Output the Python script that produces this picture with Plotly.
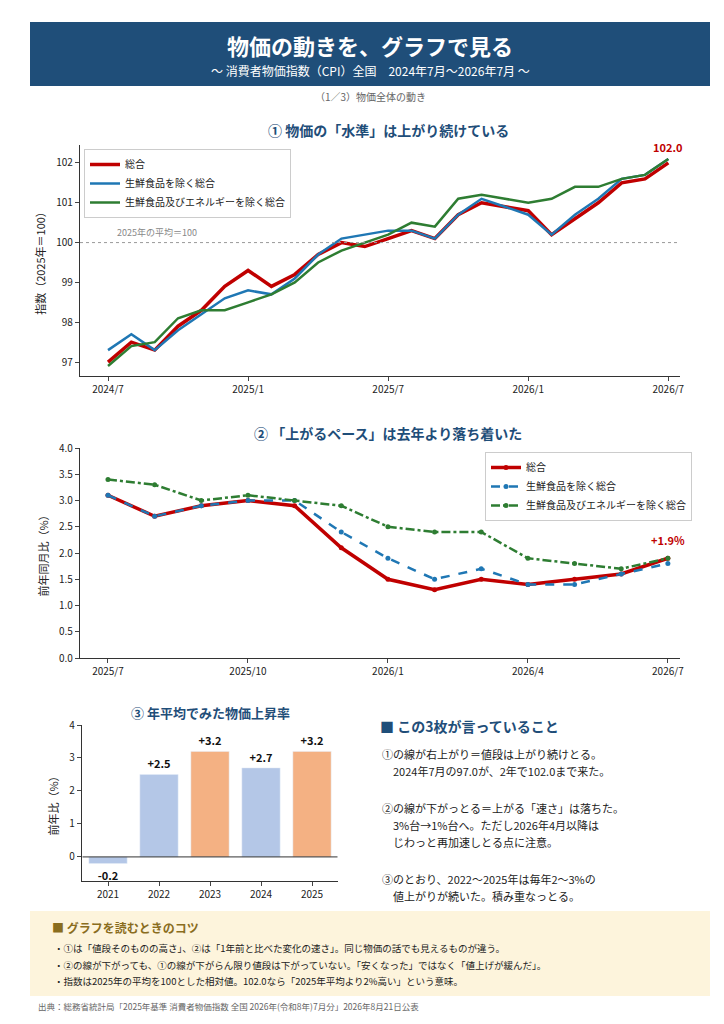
import plotly.graph_objects as go

W, H = 724, 1024
FONT = "Noto Sans CJK JP"
NAVY = "#1f4e79"
RED = "#c00000"
BLUE = "#1f77b4"
GREEN = "#2e7d32"

# ① index level, 2024/7 .. 2026/7
level_labels = ["2024/7", "2025/1", "2025/7", "2026/1", "2026/7"]
level_total = [97.0, 97.5, 97.3, 97.9, 98.3, 98.9, 99.3, 98.9, 99.2, 99.7, 100.0, 99.9, 100.1,
               100.3, 100.1, 100.7, 101.0, 100.9, 100.8, 100.2, 100.6, 101.0, 101.5, 101.6, 102.0]
level_core = [97.3, 97.7, 97.3, 97.8, 98.2, 98.6, 98.8, 98.7, 99.1, 99.7, 100.1, 100.2, 100.3,
              100.3, 100.1, 100.7, 101.1, 100.9, 100.7, 100.2, 100.7, 101.1, 101.6, 101.7, 102.1]
level_corecore = [96.9, 97.4, 97.5, 98.1, 98.3, 98.3, 98.5, 98.7, 99.0, 99.5, 99.8, 100.0, 100.2,
                  100.5, 100.4, 101.1, 101.2, 101.1, 101.0, 101.1, 101.4, 101.4, 101.6, 101.7, 102.1]

# ② year-on-year %, 2025/7 .. 2026/7
yoy_labels = ["2025/7", "2025/10", "2026/1", "2026/4", "2026/7"]
yoy_total = [3.1, 2.7, 2.9, 3.0, 2.9, 2.1, 1.5, 1.3, 1.5, 1.4, 1.5, 1.6, 1.9]
yoy_core = [3.1, 2.7, 2.9, 3.0, 3.0, 2.4, 1.9, 1.5, 1.7, 1.4, 1.4, 1.6, 1.8]
yoy_corecore = [3.4, 3.3, 3.0, 3.1, 3.0, 2.9, 2.5, 2.4, 2.4, 1.9, 1.8, 1.7, 1.9]

# ③ annual averages
years = ["2021", "2022", "2023", "2024", "2025"]
annual = [-0.2, 2.5, 3.2, 2.7, 3.2]
bar_colors = ["#b4c7e7", "#b4c7e7", "#f4b183", "#b4c7e7", "#f4b183"]

names = ["総合", "生鮮食品を除く総合", "生鮮食品及びエネルギーを除く総合"]


def px_x(x):
    return x / W


def px_y(y):
    return 1 - y / H


def note(x, y, text, size, color="#222", xanchor="center"):
    fig.add_annotation(xref="paper", yref="paper", x=px_x(x), y=px_y(y), text=text, showarrow=False,
                       xanchor=xanchor, yanchor="middle", font=dict(size=size, color=color))


fig = go.Figure()

# chart 1
xs1 = list(range(len(level_total)))
for vals, name, col, w in [(level_total, names[0], RED, 3.5), (level_core, names[1], BLUE, 2.5),
                           (level_corecore, names[2], GREEN, 2.5)]:
    fig.add_trace(go.Scatter(x=xs1, y=vals, name=name, mode="lines", line=dict(color=col, width=w),
                             xaxis="x", yaxis="y", legend="legend"))

# chart 2
xs2 = list(range(len(yoy_total)))
for vals, name, col, w, dash in [(yoy_total, names[0], RED, 3.5, "solid"), (yoy_core, names[1], BLUE, 2.5, "dash"),
                                 (yoy_corecore, names[2], GREEN, 2.5, "dashdot")]:
    fig.add_trace(go.Scatter(x=xs2, y=vals, name=name, mode="lines+markers",
                             line=dict(color=col, width=w, dash=dash), marker=dict(size=5, color=col),
                             xaxis="x2", yaxis="y2", legend="legend2"))

# chart 3
fig.add_trace(go.Bar(x=years, y=annual, marker_color=bar_colors, width=0.75,
                     text=[f"<b>{v:+.1f}</b>" for v in annual], textposition="outside",
                     textfont=dict(size=11, color="#111", family=FONT),
                     cliponaxis=False, showlegend=False, xaxis="x3", yaxis="y3"))

ax = dict(showline=True, linecolor="#333", linewidth=1.2, ticks="outside", ticklen=4, automargin=False,
          tickfont=dict(size=10, color="#222"), showgrid=False, zeroline=False)

fig.update_layout(
    width=W, height=H, margin=dict(l=0, r=0, t=0, b=0, pad=0),
    paper_bgcolor="white", plot_bgcolor="white",
    font=dict(family=FONT, color="#222"),
    xaxis=dict(ax, domain=[px_x(72), px_x(672)], range=[-1.2, 24.5], anchor="y",
               tickvals=[0, 6, 12, 18, 24], ticktext=level_labels),
    yaxis=dict(ax, domain=[px_y(368), px_y(137)], range=[96.65, 102.45], anchor="x",
               tickvals=[97, 98, 99, 100, 101, 102],
               title=dict(text="指数（2025年＝100）", font=dict(size=11), standoff=8)),
    xaxis2=dict(ax, domain=[px_x(72), px_x(672)], range=[-0.6, 12.26], anchor="y2",
                tickvals=[0, 3, 6, 9, 12], ticktext=yoy_labels),
    yaxis2=dict(ax, domain=[px_y(650), px_y(440)], range=[0, 4], anchor="x2", dtick=0.5,
                tickformat=".1f", title=dict(text="前年同月比（%）", font=dict(size=11), standoff=8)),
    xaxis3=dict(ax, domain=[px_x(74), px_x(330)], anchor="y3"),
    yaxis3=dict(ax, domain=[px_y(873), px_y(717)], range=[-0.73, 4], anchor="x3", dtick=1,
                title=dict(text="前年比（%）", font=dict(size=11), standoff=8)),
    legend=dict(x=px_x(76), y=px_y(141), xanchor="left", yanchor="top", bgcolor="white",
                bordercolor="#ccc", borderwidth=1, font=dict(size=10), tracegroupgap=0),
    legend2=dict(x=px_x(684), y=px_y(444), xanchor="right", yanchor="top", bgcolor="white",
                 bordercolor="#ccc", borderwidth=1, font=dict(size=10), tracegroupgap=0),
    bargap=0.2,
)

# horizontal references
fig.add_shape(type="line", xref="x", yref="y", x0=-1.2, x1=24.5, y0=100, y1=100,
              line=dict(color="#999", width=1, dash="dot"))
fig.add_shape(type="line", xref="x3", yref="y3", x0=-0.5, x1=4.5, y0=0, y1=0,
              line=dict(color="#333", width=1))
fig.add_annotation(xref="x", yref="y", x=0.3, y=100.05, text="2025年の平均＝100", showarrow=False,
                   xanchor="left", yanchor="bottom", font=dict(size=9, color="#888"))
fig.add_annotation(xref="x", yref="y", x=24, y=level_total[-1], text="<b>102.0</b>", showarrow=False,
                   yshift=16, font=dict(size=11, color=RED))
fig.add_annotation(xref="x2", yref="y2", x=12, y=yoy_total[-1], text="<b>+1.9%</b>", showarrow=False,
                   yshift=18, font=dict(size=11, color=RED))

# header banner
fig.add_shape(type="rect", xref="paper", yref="paper", x0=px_x(22), x1=px_x(702), y0=px_y(78), y1=px_y(14),
              fillcolor=NAVY, line=dict(width=0), layer="below")
note(362, 37, "<b>物価の動きを、グラフで見る</b>", 22, "white")
note(362, 62, "〜 消費者物価指数（CPI）全国　2024年7月〜2026年7月 〜", 12, "white")
note(362, 88, "（1／3）物価全体の動き", 10, "#666")

# chart titles
note(380, 122, "<b>① 物価の「水準」は上がり続けている</b>", 14, NAVY)
note(380, 425, "<b>② 「上がるペース」は去年より落ち着いた</b>", 14, NAVY)
note(202, 704, "<b>③ 年平均でみた物価上昇率</b>", 13, NAVY)

# right text
note(370, 718, "<b>■ この3枚が言っていること</b>", 14, NAVY, "left")
right_lines = [(746, "①の線が右上がり＝値段は上がり続けとる。"), (763, "　2024年7月の97.0が、2年で102.0まで来た。"),
               (800, "②の線が下がっとる＝上がる「速さ」は落ちた。"), (817, "　3%台→1%台へ。ただし2026年4月以降は"),
               (834, "　じわっと再加速しとる点に注意。"),
               (871, "③のとおり、2022〜2025年は毎年2〜3%の"), (888, "　値上がりが続いた。積み重なっとる。")]
for y, t in right_lines:
    note(372, y, t, 11, "#222", "left")

# tips box
fig.add_shape(type="rect", xref="paper", yref="paper", x0=px_x(22), x1=px_x(702), y0=px_y(988), y1=px_y(903),
              fillcolor="#fdf4dc", line=dict(width=0), layer="below")
note(42, 919, "<b>■ グラフを読むときのコツ</b>", 12, "#8a6d1e", "left")
tips = [(940, "・①は「値段そのものの高さ」、②は「1年前と比べた変化の速さ」。同じ物価の話でも見えるものが違う。"),
        (957, "・②の線が下がっても、①の線が下がらん限り値段は下がっていない。「安くなった」ではなく「値上げが緩んだ」。"),
        (973, "・指数は2025年の平均を100とした相対値。102.0なら「2025年平均より2%高い」という意味。")]
for y, t in tips:
    note(44, y, t, 9.5, "#222", "left")
note(28, 998, "出典：総務省統計局「2025年基準 消費者物価指数 全国 2026年(令和8年)7月分」2026年8月21日公表",
     8.5, "#666", "left")

fig.write_html("out.html")
